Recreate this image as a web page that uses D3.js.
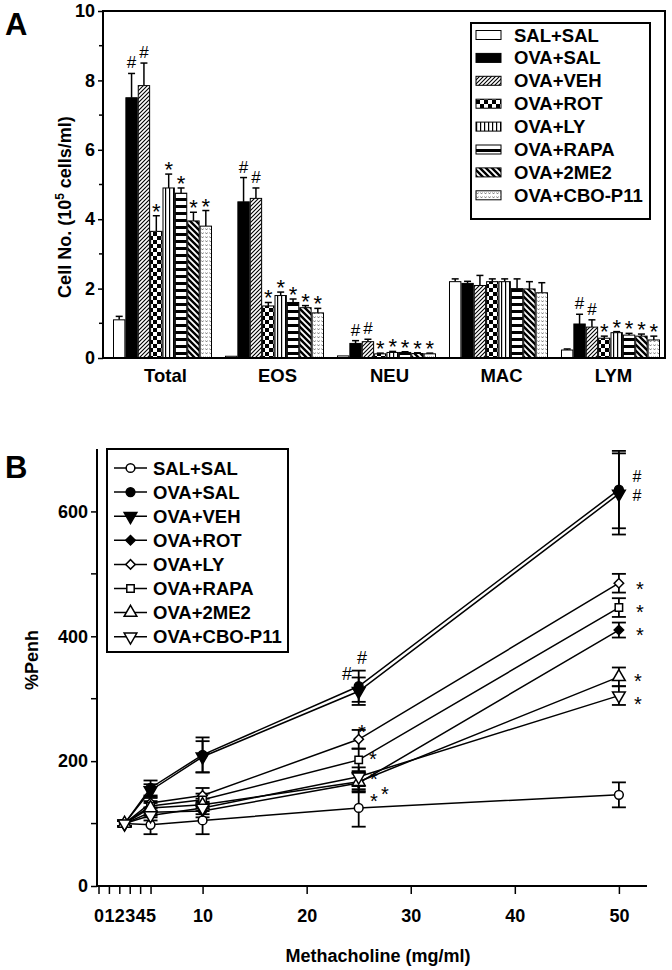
<!DOCTYPE html>
<html><head><meta charset="utf-8">
<script src="https://cdn.jsdelivr.net/npm/d3@7"></script>
<style>
html,body{margin:0;padding:0;background:#fff;}
svg{display:block;font-family:"Liberation Sans",Arial,sans-serif;}
</style></head>
<body>
<svg id="c" width="672" height="970"></svg>
<script>
// ---------- DATA: panel A ----------
const groups = ["SAL+SAL","OVA+SAL","OVA+VEH","OVA+ROT","OVA+LY","OVA+RAPA","OVA+2ME2","OVA+CBO-P11"];
const cellTypes = ["Total","EOS","NEU","MAC","LYM"];
const totalMean = [1.1,7.5,7.85,3.65,4.9,4.75,3.95,3.8];
const totalErr  = [0.1,0.7,0.65,0.45,0.4,0.15,0.25,0.45];
const eosMean   = [0.05,4.5,4.6,1.5,1.8,1.6,1.45,1.3];
const eosErr    = [0,0.7,0.3,0.1,0.1,0.1,0.06,0.13];
const neuMean   = [0.06,0.42,0.47,0.12,0.16,0.16,0.13,0.12];
const neuErr    = [0,0.08,0.07,0.02,0.03,0.02,0.02,0.02];
const macMean   = [2.2,2.15,2.09,2.2,2.2,2.0,1.99,1.88];
const macErr    = [0.08,0.06,0.29,0.08,0.08,0.28,0.21,0.29];
const lymMean   = [0.23,0.98,0.89,0.57,0.73,0.66,0.63,0.52];
const lymErr    = [0.03,0.28,0.21,0.06,0.03,0.05,0.06,0.11];
const sigStd    = ["","#","#","*","*","*","*","*"];
const sigNone   = ["","","","","","","",""];
const yTicksA   = [0,2,4,6,8,10];

// ---------- DATA: panel B ----------
const doses = [2.5,5,10,25,50];
const penhSALSAL = [100,98,105,125,146];   const errSALSAL = [4,15,22,30,20];
const penhOVASAL = [100,157,210,320,635];  const errOVASAL = [4,12,28,25,62];
const penhOVAVEH = [100,153,207,312,628];  const errOVAVEH = [4,10,25,22,65];
const penhOVAROT = [100,118,120,165,410];  const errOVAROT = [4,8,10,15,12];
const penhOVALY  = [100,133,145,235,485];  const errOVALY  = [4,8,12,15,15];
const penhOVARAPA= [100,128,138,202,446];  const errOVARAPA= [4,8,10,18,15];
const penhOVA2ME2= [100,125,130,167,335];  const errOVA2ME2= [4,8,10,15,15];
const penhOVACBO = [100,113,125,175,305];  const errOVACBO = [4,8,10,15,15];
const sigB25 = ["","#","#","*","*","*","*","*"];
const sigB50 = ["","#","#","*","*","*","*","*"];
const yTicksB = [0,200,400,600];
const xTicksB = [0,1,2,3,4,5,10,20,30,40,50];

// ---------- build ----------
const svg = d3.select("#c");
const defs = svg.append("defs");
function pat(id,w,h,fn){const p=defs.append("pattern").attr("id",id).attr("patternUnits","userSpaceOnUse").attr("width",w).attr("height",h);p.append("rect").attr("width",w).attr("height",h).attr("fill","#fff");fn(p);}
pat("pVEH",4,4,p=>p.append("path").attr("d","M-1,1 L1,-1 M0,4 L4,0 M3,5 L5,3").attr("stroke","#000").attr("stroke-width",1.1));
pat("pROT",8,8,p=>{p.append("rect").attr("width",4).attr("height",4).attr("fill","#000");p.append("rect").attr("x",4).attr("y",4).attr("width",4).attr("height",4).attr("fill","#000");});
pat("pLY",4,4,p=>p.append("rect").attr("x",0).attr("width",1.2).attr("height",4).attr("fill","#000"));
pat("pRAPA",7,7,p=>p.append("rect").attr("y",2).attr("width",7).attr("height",3).attr("fill","#000"));
pat("p2ME2",6,6,p=>p.append("path").attr("d","M-1.5,-1.5 L7.5,7.5 M-1.5,4.5 L1.5,7.5 M4.5,-1.5 L7.5,1.5").attr("stroke","#000").attr("stroke-width",2.4));
pat("pCBO",4,4,p=>{p.append("path").attr("d","M0.5,0.5 L1.5,2 L2.5,0.5").attr("stroke","#666").attr("stroke-width",0.8).attr("fill","none");});
const fills = ["#fff","#000","url(#pVEH)","url(#pROT)","url(#pLY)","url(#pRAPA)","url(#p2ME2)","url(#pCBO)"];

// ================= PANEL A =================
const means = [totalMean,eosMean,neuMean,macMean,lymMean];
const errs  = [totalErr,eosErr,neuErr,macErr,lymErr];
const sigs  = [sigStd,sigStd,sigStd,sigNone,sigStd];
const yA = d3.scaleLinear().domain([0,10]).range([358,11]);
const xA = d3.scaleBand().domain(cellTypes).range([113,660]).paddingInner(0.116).paddingOuter(0);
const xIn = d3.scaleBand().domain(groups).range([0,xA.bandwidth()]);
const gA = svg.append("g");
cellTypes.forEach((ct,ci)=>{
  const g = gA.append("g").attr("transform",`translate(${xA(ct)},0)`);
  groups.forEach((gr,gi)=>{
    const v = means[ci][gi], e = errs[ci][gi];
    const x = xIn(gr), w = xIn.bandwidth();
    if(e>0){
      g.append("line").attr("x1",x+w/2).attr("x2",x+w/2).attr("y1",yA(v)).attr("y2",yA(v+e)).attr("stroke","#000").attr("stroke-width",1.5);
      g.append("line").attr("x1",x+w/2-3.5).attr("x2",x+w/2+3.5).attr("y1",yA(v+e)).attr("y2",yA(v+e)).attr("stroke","#000").attr("stroke-width",1.5);
    }
    g.append("rect").attr("x",x+0.5).attr("y",yA(v)).attr("width",w-1).attr("height",yA(0)-yA(v))
      .attr("fill",fills[gi]).attr("stroke","#000").attr("stroke-width",1);
    const s = sigs[ci][gi];
    if(s){
      const top = yA(v+e);
      g.append("text").attr("x",x+w/2).attr("y", s==="#"? top-5 : top+3).attr("text-anchor","middle")
        .attr("font-size",s==="#"?17:22).text(s);
    }
  });
});
// axes A
const axA = svg.append("g").attr("transform","translate(103,0)")
  .call(d3.axisLeft(yA).tickValues(yTicksA).tickSize(5).tickFormat(d3.format("d")));
axA.select(".domain").remove();
axA.selectAll("text").attr("font-size",18).attr("font-weight","bold").attr("font-family","Liberation Sans, Arial").attr("x",-8);
axA.selectAll(".tick line").attr("stroke-width",1.5);
svg.append("g").selectAll("line").data([1,3,5,7,9]).join("line").attr("x1",99).attr("x2",103).attr("y1",d=>yA(d)).attr("y2",d=>yA(d)).attr("stroke","#000").attr("stroke-width",1.5);
svg.append("rect").attr("x",103).attr("y",yA(10)).attr("width",665-103).attr("height",yA(0)-yA(10)).attr("fill","none").attr("stroke","#000").attr("stroke-width",2);
svg.append("g").selectAll("text").data(cellTypes).join("text")
  .attr("x",d=>xA(d)+xA.bandwidth()/2+3).attr("y",382).attr("text-anchor","middle")
  .attr("font-size",18.5).attr("font-weight","bold").text(d=>d);
const ylA = svg.append("text").attr("transform","translate(71,207) rotate(-90)").attr("text-anchor","middle").attr("font-size",18).attr("font-weight","bold");
ylA.append("tspan").text("Cell No. (10");
ylA.append("tspan").attr("font-size",12).attr("dy",-7).text("5");
ylA.append("tspan").attr("dy",7).text(" cells/ml)");
svg.append("text").attr("x",5).attr("y",35).attr("font-size",31).attr("font-weight","bold").text("A");
// legend A
const lgA = svg.append("g");
lgA.append("rect").attr("x",471).attr("y",23).attr("width",179).attr("height",196).attr("fill","#fff").attr("stroke","#000").attr("stroke-width",2);
groups.forEach((gr,i)=>{
  const cy = 35 + i*22.9;
  lgA.append("rect").attr("x",476).attr("y",cy-4.5).attr("width",25).attr("height",9).attr("fill",fills[i]).attr("stroke","#000").attr("stroke-width",1);
  lgA.append("text").attr("x",514).attr("y",cy+6.5).attr("font-size",18.5).attr("font-weight","bold").text(gr);
});

// ================= PANEL B =================
const penh = [penhSALSAL,penhOVASAL,penhOVAVEH,penhOVAROT,penhOVALY,penhOVARAPA,penhOVA2ME2,penhOVACBO];
const penhErr = [errSALSAL,errOVASAL,errOVAVEH,errOVAROT,errOVALY,errOVARAPA,errOVA2ME2,errOVACBO];
const xB = d3.scaleLinear().domain([0,52.7]).range([98.5,647]);
const yB = d3.scaleLinear().domain([0,700]).range([886,449]);
const markerFill = ["#fff","#000","#000","#000","#fff","#fff","#fff","#fff"];
const markerType = [d3.symbolCircle,d3.symbolCircle,d3.symbolTriangle,d3.symbolSquare,d3.symbolSquare,d3.symbolSquare,d3.symbolTriangle,d3.symbolTriangle];
const markerSize = [60,60,70,45,45,55,70,70];
const markerRot  = [0,0,180,45,45,0,0,180];
const gB = svg.append("g");
const line = d3.line().x(d=>xB(d[0])).y(d=>yB(d[1]));
penh.forEach((vals,i)=>{
  gB.append("path").attr("d",line(doses.map((x,j)=>[x,vals[j]]))).attr("fill","none").attr("stroke","#000").attr("stroke-width",1.5);
});
penh.forEach((vals,i)=>{
  doses.forEach((x,j)=>{
    const e = penhErr[i][j], cx = xB(x);
    gB.append("line").attr("x1",cx).attr("x2",cx).attr("y1",yB(vals[j]-e)).attr("y2",yB(vals[j]+e)).attr("stroke","#000").attr("stroke-width",1.8);
    [vals[j]-e,vals[j]+e].forEach(v=>gB.append("line").attr("x1",cx-7).attr("x2",cx+7).attr("y1",yB(v)).attr("y2",yB(v)).attr("stroke","#000").attr("stroke-width",1.8));
  });
});
function marker(g,i,x,y){
  g.append("path").attr("d",d3.symbol().type(markerType[i]).size(markerSize[i])())
   .attr("transform",`translate(${x},${y}) rotate(${markerRot[i]})`)
   .attr("fill",markerFill[i]).attr("stroke","#000").attr("stroke-width",1.5);
}
penh.forEach((vals,i)=>doses.forEach((x,j)=>marker(gB,i,xB(x),yB(vals[j]))));
// annotations B
const ann = svg.append("g");
ann.append("text").attr("x",347).attr("y",680).attr("text-anchor","middle").attr("font-size",18).text(sigB25[1]);
ann.append("text").attr("x",362).attr("y",664).attr("text-anchor","middle").attr("font-size",18).text(sigB25[2]);
[[4,362,739],[5,373,766],[3,374,786],[6,374,808],[7,385,801]].forEach(([i,x,y])=>ann.append("text").attr("x",x).attr("y",y).attr("text-anchor","middle").attr("font-size",20).text(sigB25[i]));
ann.append("text").attr("x",637).attr("y",482).attr("text-anchor","middle").attr("font-size",16).text(sigB50[1]);
ann.append("text").attr("x",637).attr("y",501).attr("text-anchor","middle").attr("font-size",16).text(sigB50[2]);
[[4,640,596],[5,640,619],[3,640,642],[6,638,688],[7,638,711]].forEach(([i,x,y])=>ann.append("text").attr("x",x).attr("y",y).attr("text-anchor","middle").attr("font-size",20).text(sigB50[i]));
// axes B
const axBy = svg.append("g").attr("transform","translate(97,0)").call(d3.axisLeft(yB).tickValues(yTicksB).tickSize(6).tickFormat(d3.format("d")));
axBy.select(".domain").remove();
axBy.selectAll("text").attr("font-size",18).attr("font-weight","bold").attr("font-family","Liberation Sans, Arial").attr("x",-9);
axBy.selectAll(".tick line").attr("stroke-width",1.5);
svg.append("g").selectAll("line").data([100,300,500]).join("line").attr("x1",91).attr("x2",97).attr("y1",d=>yB(d)).attr("y2",d=>yB(d)).attr("stroke","#000").attr("stroke-width",1.5);
svg.append("line").attr("x1",97).attr("x2",97).attr("y1",yB(700)).attr("y2",yB(0)+1).attr("stroke","#000").attr("stroke-width",2);
const axBx = svg.append("g").attr("transform","translate(0,886)").call(d3.axisBottom(xB).tickValues(xTicksB).tickSize(8).tickFormat(d3.format("d")));
axBx.select(".domain").attr("stroke-width",2).attr("d",`M97,0H647`);
axBx.selectAll(".tick line").attr("stroke-width",1.5);
axBx.selectAll("text").attr("font-size",18).attr("font-weight","bold").attr("font-family","Liberation Sans, Arial").attr("dy",0).attr("y",36);
svg.append("text").attr("x",378).attr("y",962).attr("text-anchor","middle").attr("font-size",18).attr("font-weight","bold").text("Methacholine (mg/ml)");
svg.append("text").attr("transform","translate(38,660) rotate(-90)").attr("text-anchor","middle").attr("font-size",18).attr("font-weight","bold").text("%Penh");
svg.append("text").attr("x",5).attr("y",478).attr("font-size",31).attr("font-weight","bold").text("B");
// legend B
const lgB = svg.append("g");
lgB.append("rect").attr("x",107).attr("y",449).attr("width",181).attr("height",203).attr("fill","#fff").attr("stroke","#000").attr("stroke-width",2);
groups.forEach((gr,i)=>{
  const cy = 468 + i*24.1;
  lgB.append("line").attr("x1",114).attr("x2",147).attr("y1",cy).attr("y2",cy).attr("stroke","#000").attr("stroke-width",1.5);
  marker(lgB,i,130.5,cy);
  lgB.append("text").attr("x",153).attr("y",cy+6.5).attr("font-size",18.5).attr("font-weight","bold").text(gr);
});
</script>
</body></html>
